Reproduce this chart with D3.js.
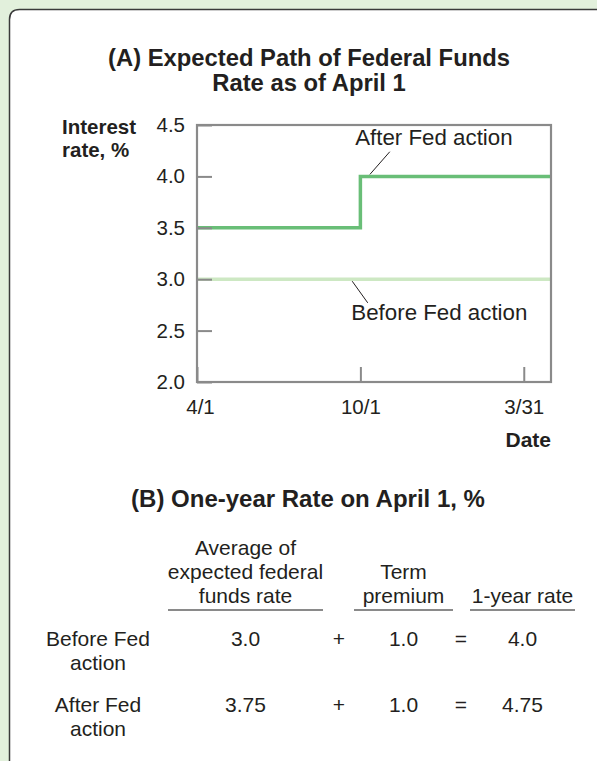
<!DOCTYPE html>
<html>
<head>
<meta charset="utf-8">
<script src="https://cdn.jsdelivr.net/npm/d3@7"></script>
<style>
  html, body { margin: 0; padding: 0; background: #e2f0dc; }
  svg { display: block; }
  text { font-family: "Liberation Sans", Arial, Helvetica, sans-serif; fill: #231f20; }
</style>
</head>
<body>
<script>
// ---------- Data ----------
const titleA = ["(A) Expected Path of Federal Funds", "Rate as of April 1"];
const yAxisLabel = ["Interest", "rate, %"];
const xAxisLabel = "Date";
const yTickValues = [2.0, 2.5, 3.0, 3.5, 4.0, 4.5];
const xTickMonths = [0, 6, 12];
const xTickLabels = ["4/1", "10/1", "3/31"];
const xDomain = [0, 13];
const yDomain = [2.0, 4.5];

const afterMonths = [0, 6, 13];
const afterValues = [3.5, 4.0, 4.0];
const beforeMonths = [0, 13];
const beforeValues = [3.0, 3.0];
const seriesNames = ["After Fed action", "Before Fed action"];

const titleB = "(B) One-year Rate on April 1, %";
const colHeaders = [["Average of", "expected federal", "funds rate"], ["Term", "premium"], ["1-year rate"]];
const rowLabels = [["Before Fed", "action"], ["After Fed", "action"]];
const avgFedFunds = ["3.0", "3.75"];
const termPremium = ["1.0", "1.0"];
const oneYearRate = ["4.0", "4.75"];

// ---------- Layout ----------
const W = 597, H = 761;
const svg = d3.select("body").append("svg").attr("width", W).attr("height", H);

svg.append("rect").attr("width", W).attr("height", H).attr("fill", "#e2f0dc");
svg.append("path")
  .attr("d", "M9.5,775 L9.5,19.5 Q9.5,9.5 19.5,9.5 L610,9.5 L610,775 Z")
  .attr("fill", "#ffffff").attr("stroke", "#3a3a3a").attr("stroke-width", 1.5);

const plot = { left: 197, right: 551, top: 125, bottom: 382 };
const x = d3.scaleLinear().domain(xDomain).range([plot.left, plot.right]);
const y = d3.scaleLinear().domain(yDomain).range([plot.bottom, plot.top]);

// Title A
const tA = svg.append("text").attr("text-anchor", "middle")
  .attr("font-weight", "bold").attr("font-size", 23.8);
titleA.forEach((s, i) => tA.append("tspan").attr("x", 309).attr("y", 66 + i * 25).text(s));

// Y axis label
const yl = svg.append("text").attr("font-weight", "bold").attr("font-size", 20.5);
yAxisLabel.forEach((s, i) => yl.append("tspan").attr("x", 62).attr("y", 134 + i * 23).text(s));

// Lines
const line = d3.line().x(d => x(d[0])).y(d => y(d[1])).curve(d3.curveStepAfter);
svg.append("path")
  .datum(d3.zip(beforeMonths, beforeValues))
  .attr("d", line).attr("fill", "none").attr("stroke", "#cde8c3").attr("stroke-width", 3.5);
svg.append("path")
  .datum(d3.zip(afterMonths, afterValues))
  .attr("d", line).attr("fill", "none").attr("stroke", "#69be77").attr("stroke-width", 3.5);

// Axes
const axisColor = "#8a8a8a";
const yAxis = svg.append("g").attr("transform", `translate(${plot.left},0)`)
  .call(d3.axisLeft(y).tickValues(yTickValues).tickFormat(d3.format(".1f"))
    .tickSizeInner(-15).tickSizeOuter(0).tickPadding(12));
const xAxis = svg.append("g").attr("transform", `translate(0,${plot.bottom})`)
  .call(d3.axisBottom(x).tickValues(xTickMonths).tickFormat((d, i) => xTickLabels[i])
    .tickSizeInner(-15).tickSizeOuter(0).tickPadding(17));
[yAxis, xAxis].forEach(g => {
  g.select(".domain").remove();
  g.selectAll(".tick line").attr("stroke", axisColor).attr("stroke-width", 2);
  g.selectAll(".tick text").attr("font-size", 20.5).attr("fill", "#231f20");
});
xAxis.selectAll(".tick text").attr("dx", (d, i) => i === 0 ? 3 : 0);

// Plot frame
svg.append("rect")
  .attr("x", plot.left).attr("y", plot.top)
  .attr("width", plot.right - plot.left).attr("height", plot.bottom - plot.top)
  .attr("fill", "none").attr("stroke", axisColor).attr("stroke-width", 2.2);

// X axis label
svg.append("text").attr("x", plot.right).attr("y", 447).attr("text-anchor", "end")
  .attr("font-weight", "bold").attr("font-size", 21).text(xAxisLabel);

// Annotations
const ann = svg.append("g");
ann.append("line").attr("x1", x(6.35)).attr("y1", y(4.0) - 2).attr("x2", x(7.08)).attr("y2", y(4.24))
  .attr("stroke", "#231f20").attr("stroke-width", 1);
ann.append("text").attr("x", x(8.7)).attr("y", y(4.305)).attr("text-anchor", "middle")
  .attr("font-size", 22.3).text(seriesNames[0]);
ann.append("line").attr("x1", x(5.7)).attr("y1", y(3.0) + 2).attr("x2", x(6.27)).attr("y2", y(2.77))
  .attr("stroke", "#231f20").attr("stroke-width", 1);
ann.append("text").attr("x", x(8.9)).attr("y", y(2.6)).attr("text-anchor", "middle")
  .attr("font-size", 22.3).text(seriesNames[1]);

// ---------- Panel B ----------
svg.append("text").attr("x", 308).attr("y", 507).attr("text-anchor", "middle")
  .attr("font-weight", "bold").attr("font-size", 24).text(titleB);

const colCenters = [245.5, 403.5, 522.5];
const colSpans = [[168, 323], [354, 453], [470, 575]];
const headBase = 603, lh = 24;
const fs = 21;
colHeaders.forEach((lines, c) => {
  const t = svg.append("text").attr("text-anchor", "middle").attr("font-size", fs);
  lines.forEach((s, i) => t.append("tspan").attr("x", colCenters[c])
    .attr("y", headBase - (lines.length - 1 - i) * lh).text(s));
  svg.append("line").attr("x1", colSpans[c][0]).attr("x2", colSpans[c][1])
    .attr("y1", 610).attr("y2", 610).attr("stroke", axisColor).attr("stroke-width", 2);
});

const rowBase = [646, 712];
rowLabels.forEach((lines, r) => {
  const t = svg.append("text").attr("text-anchor", "middle").attr("font-size", fs);
  lines.forEach((s, i) => t.append("tspan").attr("x", 98).attr("y", rowBase[r] + i * lh).text(s));
  const cells = [avgFedFunds[r], "+", termPremium[r], "=", oneYearRate[r]];
  const xs = [colCenters[0], 339, colCenters[1], 461, colCenters[2]];
  cells.forEach((s, k) => svg.append("text").attr("x", xs[k]).attr("y", rowBase[r])
    .attr("text-anchor", "middle").attr("font-size", fs).text(s));
});
</script>
</body>
</html>
